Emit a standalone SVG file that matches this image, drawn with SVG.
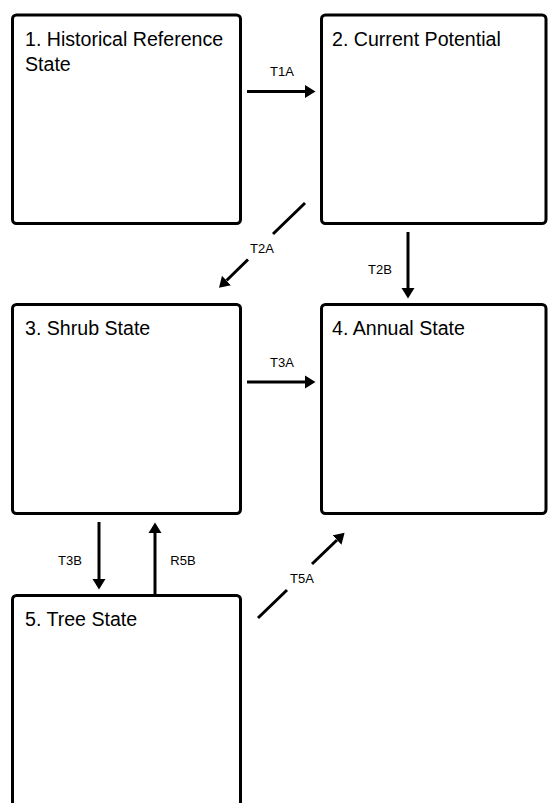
<svg xmlns="http://www.w3.org/2000/svg" width="550" height="803" viewBox="0 0 550 803">
<style>
.box{fill:#fff;stroke:#000;stroke-width:3}
.title{font-family:"Liberation Sans",Arial,sans-serif;font-size:19.6px;fill:#000}
.lbl{font-family:"Liberation Sans",Arial,sans-serif;font-size:13px;fill:#000;text-anchor:middle}
.ln{stroke:#000;stroke-width:3;fill:none}
</style>
<defs>
<marker id="ah" markerUnits="userSpaceOnUse" markerWidth="11" markerHeight="14" refX="0" refY="6.5" orient="auto" viewBox="0 0 11 13">
<path d="M0,0 L10.5,6.5 L0,13 z" fill="#000"/>
</marker>
</defs>
<rect width="550" height="803" fill="#fff"/>
<g id="node1"><rect class="box" x="12.5" y="15" width="228" height="208.5" rx="4"/><text class="title" x="25" y="46">1. Historical Reference</text><text class="title" x="25" y="71">State</text></g>
<g id="node2"><rect class="box" x="321.5" y="15" width="224.5" height="208.5" rx="4"/><text class="title" x="332" y="46">2. Current Potential</text></g>
<g id="node3"><rect class="box" x="12.5" y="304.5" width="228" height="209" rx="4"/><text class="title" x="25" y="335">3. Shrub State</text></g>
<g id="node4"><rect class="box" x="321.5" y="304.5" width="224.5" height="209" rx="4"/><text class="title" x="332" y="335">4. Annual State</text></g>
<g id="node5"><rect class="box" x="12.5" y="595.5" width="228" height="240" rx="4"/><text class="title" x="25" y="626">5. Tree State</text></g>
<g id="connectors">
<line class="ln" x1="247" y1="91.5" x2="305" y2="91.5" marker-end="url(#ah)"/>
<text class="lbl" x="282" y="76">T1A</text>
<line class="ln" x1="305" y1="203" x2="273" y2="234"/>
<line class="ln" x1="248" y1="259.5" x2="226.5" y2="280.5" marker-end="url(#ah)"/>
<text class="lbl" x="262" y="253">T2A</text>
<line class="ln" x1="408" y1="232" x2="408" y2="288" marker-end="url(#ah)"/>
<text class="lbl" x="380" y="274">T2B</text>
<line class="ln" x1="247" y1="382" x2="305" y2="382" marker-end="url(#ah)"/>
<text class="lbl" x="282" y="367">T3A</text>
<line class="ln" x1="99" y1="522" x2="99" y2="579" marker-end="url(#ah)"/>
<text class="lbl" x="70" y="565">T3B</text>
<line class="ln" x1="155" y1="594" x2="155" y2="533" marker-end="url(#ah)"/>
<text class="lbl" x="183" y="565">R5B</text>
<line class="ln" x1="258" y1="618" x2="287" y2="590"/>
<line class="ln" x1="312" y1="564" x2="337" y2="540" marker-end="url(#ah)"/>
<text class="lbl" x="302" y="583">T5A</text>
</g>
</svg>
